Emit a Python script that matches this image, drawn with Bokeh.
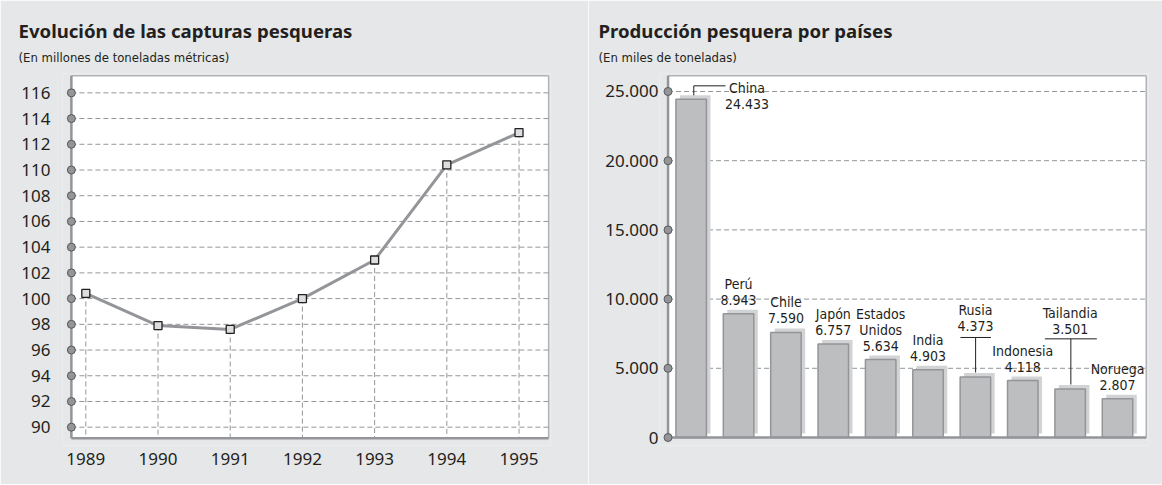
from bokeh.plotting import figure
from bokeh.layouts import row
from bokeh.models import FixedTicker, Range1d, Title, ColumnDataSource
from bokeh.core.properties import value
from bokeh.embed import file_html
from bokeh.resources import INLINE

# ---------------- data ----------------
years = [1989, 1990, 1991, 1992, 1993, 1994, 1995]
catches = [100.4, 97.9, 97.6, 100.0, 103.0, 110.4, 112.9]
left_y_ticks = [90, 92, 94, 96, 98, 100, 102, 104, 106, 108, 110, 112, 114, 116]

countries = ["China", "Perú", "Chile", "Japón", "Estados Unidos", "India",
             "Rusia", "Indonesia", "Tailandia", "Noruega"]
production = [24433, 8943, 7590, 6757, 5634, 4903, 4373, 4118, 3501, 2807]
right_y_ticks = [0, 5000, 10000, 15000, 20000, 25000]
right_y_labels = ["0", "5.000", "10.000", "15.000", "20.000", "25.000"]

title_left = "Evolución de las capturas pesqueras"
sub_left = "(En millones de toneladas métricas)"
title_right = "Producción pesquera por países"
sub_right = "(En miles de toneladas)"

# ---------------- style ----------------
BG = "#e6e7e8"
GRID = "#939598"
AXIS = "#939598"
BORDER = "#b1b3b6"
TEXT = "#231f20"
BAR = "#bcbec0"
SHADOW = "#d1d3d4"
MARK_FILL = "#dcddde"
TICK_FONT = "Noto Sans"
TITLE_FONT = "Noto Sans"
NARROW = "Liberation Sans Narrow, DejaVu Sans Condensed, Roboto Condensed, Noto Sans"


def base_fig(xr, yr, fw, fh, bl, br, bt, bb):
    p = figure(x_range=Range1d(*xr), y_range=Range1d(*yr),
               frame_width=fw, frame_height=fh,
               min_border_left=bl, min_border_right=br,
               min_border_top=bt, min_border_bottom=bb,
               output_backend="svg", toolbar_location=None)
    p.background_fill_color = BG
    p.border_fill_color = BG
    p.outline_line_color = None
    p.grid.visible = False
    for ax in (p.xaxis, p.yaxis):
        ax.axis_line_color = None
        ax.major_tick_line_color = None
        ax.minor_tick_line_color = None
        ax.major_tick_out = 0
        ax.major_tick_in = 0
        ax.minor_tick_out = 0
        ax.minor_tick_in = 0
        ax.major_label_text_font = TICK_FONT
        ax.major_label_text_font_size = "17px"
        ax.major_label_text_color = TEXT
    return p


def add_titles(p, title, sub, offset):
    p.add_layout(Title(text=sub, align="left", offset=offset, vertical_align="top",
                       standoff=14, text_font=NARROW, text_font_size="13px",
                       text_font_style="normal", text_color=TEXT), "above")
    p.add_layout(Title(text=title, align="left", offset=offset, vertical_align="bottom",
                       standoff=0, text_font=TITLE_FONT, text_font_size="18.6px",
                       text_font_style="bold", text_color=TEXT), "above")


# ================= left chart =================
L_XR = (1988.677, 1995.436)
L_YR = (88.577, 117.504)
p1 = base_fig(L_XR, L_YR, 488, 372, 62, 38, 73, 39)
AX_L, AX_R = 1988.80, 1995.41
AY_B, AY_T = 89.145, 117.33

p1.xaxis.ticker = FixedTicker(ticks=years)
p1.xaxis.major_label_standoff = 7
p1.yaxis.ticker = FixedTicker(ticks=left_y_ticks)
p1.yaxis.major_label_standoff = 12

p1.quad(left=AX_L, right=AX_R, bottom=AY_B, top=AY_T, fill_color="white", line_color=None)
p1.segment(x0=[AX_R, AX_L], y0=[AY_B, AY_T], x1=[AX_R, AX_R], y1=[AY_T, AY_T],
           line_color=BORDER, line_width=1.5)
n = len(left_y_ticks)
p1.segment(x0=[AX_L] * n, y0=left_y_ticks, x1=[AX_R] * n, y1=left_y_ticks,
           line_color=GRID, line_width=1, line_dash="5 3")
p1.segment(x0=years, y0=catches, x1=years, y1=[AY_B] * len(years),
           line_color=GRID, line_width=1, line_dash="5 3")
p1.segment(x0=[AX_L, AX_L], y0=[AY_B, AY_B], x1=[AX_L, AX_R], y1=[AY_T, AY_B],
           line_color=AXIS, line_width=2.5)
p1.scatter(x=[AX_L] * n, y=left_y_ticks, size=8, fill_color=GRID,
           line_color="#58595b", line_width=1)
p1.line(years, catches, line_color=GRID, line_width=3)
p1.scatter(years, catches, marker="square", size=8, fill_color=MARK_FILL,
           line_color=TEXT, line_width=1.3)
add_titles(p1, title_left, sub_left, -44)

# ================= right chart =================
R_XR = (-0.669, 9.654)
R_YR = (-578, 26300)
FW2, FH2 = 489, 372
p2 = base_fig(R_XR, R_YR, FW2, FH2, 71, 14, 72, 40)
PXX = (R_XR[1] - R_XR[0]) / FW2
PXY = (R_YR[1] - R_YR[0]) / FH2
BX_L, BX_R = -0.4886, 9.606
BY_B, BY_T = 0, 26134

p2.xaxis.visible = False
p2.yaxis.ticker = FixedTicker(ticks=right_y_ticks)
p2.yaxis.major_label_overrides = {t: l for t, l in zip(right_y_ticks, right_y_labels)}
p2.yaxis.major_label_standoff = 1

p2.quad(left=BX_L, right=BX_R, bottom=BY_B, top=BY_T, fill_color="white", line_color=None)
p2.segment(x0=[BX_R, BX_L], y0=[BY_B, BY_T], x1=[BX_R, BX_R], y1=[BY_T, BY_T],
           line_color=BORDER, line_width=1.5)
grid_ticks = right_y_ticks[1:]
m = len(grid_ticks)
p2.segment(x0=[BX_L] * m, y0=grid_ticks, x1=[BX_R] * m, y1=grid_ticks,
           line_color=GRID, line_width=1, line_dash="5 3")

idx = list(range(len(countries)))
HALF = 0.322
SH_X, SH_Y = 4 * PXX, 4 * PXY
bars = ColumnDataSource(dict(
    x=idx, v=production,
    l=[i - HALF for i in idx], r=[i + HALF for i in idx],
    sl=[i - HALF + SH_X for i in idx], sr=[i + HALF + SH_X for i in idx],
    sb=[SH_Y] * len(idx), st=[v + SH_Y for v in production],
))
p2.quad(left="sl", right="sr", bottom="sb", top="st", source=bars,
        fill_color=SHADOW, line_color=None)
p2.quad(left="l", right="r", bottom=0, top="v", source=bars,
        fill_color=BAR, line_color=GRID, line_width=1.5)

p2.segment(x0=[BX_L, BX_L], y0=[BY_B, BY_B], x1=[BX_L, BX_R], y1=[BY_T, BY_B],
           line_color=AXIS, line_width=2.5)
p2.scatter(x=[BX_L] * len(right_y_ticks), y=right_y_ticks, size=8, fill_color=GRID,
           line_color="#58595b", line_width=1)

display_names = {"Estados Unidos": "Estados\nUnidos"}
lift = {"China": -4.5, "Rusia": 51, "Tailandia": 60}
xshift = {"China": 55.8}
tx, ty, tt, tyo, txo = [], [], [], [], []
for i, (c, v) in enumerate(zip(countries, production)):
    lines = display_names.get(c, c).split("\n") + [f"{v:,}".replace(",", ".")]
    k = len(lines)
    for j, s in enumerate(lines):
        tx.append(i)
        ty.append(v)
        tt.append(s)
        tyo.append(-(lift.get(c, 14) + 16 * (k - 1 - j)))
        txo.append(xshift.get(c, 0))
p2.text(x=tx, y=ty, text=tt, x_offset=txo, y_offset=tyo,
        text_font=value(NARROW), text_font_size="14px", text_color=TEXT,
        text_align="center", text_baseline="middle")

ci, ri, ti = countries.index("China"), countries.index("Rusia"), countries.index("Tailandia")
cv, rv, tv = production[ci], production[ri], production[ti]
lx0 = [ci + 2.6 * PXX, ci + 2.6 * PXX,
       ri + 0.2 * PXX, ri - 15 * PXX,
       ti + 0.7 * PXX, ti - 25.3 * PXX]
ly0 = [cv + 4 * PXY, cv + 13.5 * PXY,
       rv + 4.5 * PXY, rv + 39.5 * PXY,
       tv + 4.5 * PXY, tv + 50.2 * PXY]
lx1 = [ci + 2.6 * PXX, ci + 34.3 * PXX,
       ri + 0.2 * PXX, ri + 15.5 * PXX,
       ti + 0.7 * PXX, ti + 26.7 * PXX]
ly1 = [cv + 13.5 * PXY, cv + 13.5 * PXY,
       rv + 39.5 * PXY, rv + 39.5 * PXY,
       tv + 50.2 * PXY, tv + 50.2 * PXY]
p2.segment(x0=lx0, y0=ly0, x1=lx1, y1=ly1, line_color=TEXT, line_width=1)
add_titles(p2, title_right, sub_right, -61)

layout = row(p1, p2)
open("out.html", "w").write(file_html(layout, INLINE))
